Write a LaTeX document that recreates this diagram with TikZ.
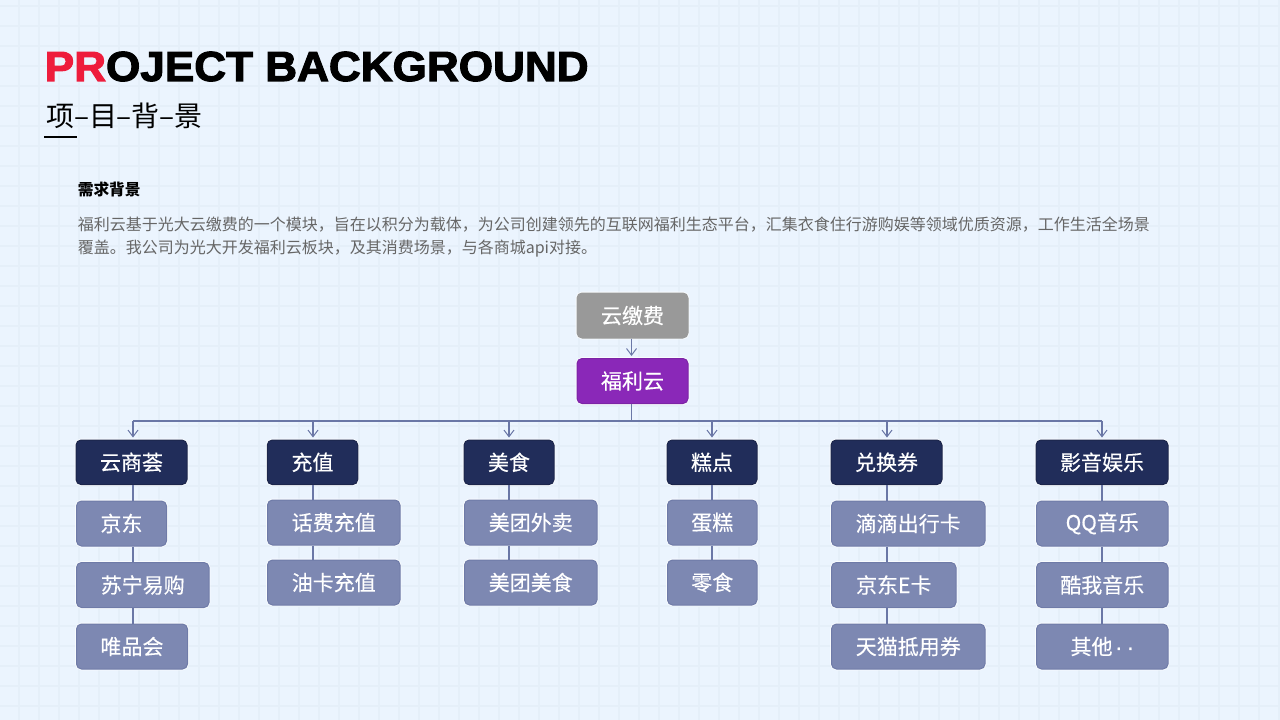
\documentclass[tikz,border=0pt]{standalone}
\usepackage{fontspec}
\setmainfont{Noto Sans CJK SC}
\newfontfamily\titlefont[FakeBold=2.6,FakeStretch=1.05]{Liberation Sans Bold}
\newfontfamily\boxfont[FakeBold=0.35]{Noto Sans CJK SC}
\newfontfamily\latinfont[FakeBold=1]{Liberation Sans}
\usetikzlibrary{arrows.meta}
\definecolor{bgc}{HTML}{EBF4FE}
\definecolor{gridc}{HTML}{E5EFF9}
\definecolor{navy}{HTML}{212D5A}
\definecolor{slate}{HTML}{7D88B2}
\definecolor{slateb}{HTML}{6F7BA8}
\definecolor{linec}{HTML}{6A77A6}
\definecolor{purp}{HTML}{8A28B8}
\definecolor{grayb}{HTML}{999999}
\definecolor{redt}{HTML}{EE1C3C}
\tikzset{
  box/.style={rounded corners=3.75pt,inner sep=0pt,text=white,font=\boxfont\fontsize{15.75pt}{18pt}\selectfont,line width=0.75pt,preaction={draw=white,line width=2pt,opacity=.75}},
  wd/.style={minimum width=#1*0.75pt},
  ht/.style={minimum height=#1*0.75pt},
  top/.style={box,fill=navy,draw=navy!85!black},
  sub/.style={box,fill=slate,draw=slateb},
  grayn/.style={box,fill=grayb,draw=grayb},
  purpn/.style={box,fill=purp,draw=purp!90!black},
  conn/.style={draw=linec,line width=0.8pt},
  arr/.style={conn,shorten >=1.5pt,-{Straight Barb[length=5pt,width=7.5pt,line width=0.75pt]}},
  txt/.style={anchor=base west,inner sep=0pt},
  bodytxt/.style={txt,text=black!60,font=\fontsize{12pt}{14pt}\selectfont},
  gridline/.style={gridc,line width=0.9pt},
}
\begin{document}
\begin{tikzpicture}[x=0.75pt,y=-0.75pt]
\useasboundingbox (0,0) rectangle (1280,720);
\fill[bgc] (0,0) rectangle (1280,720);
\foreach \i in {0,...,63}{\draw[gridline] ({19+20*\i},0) -- ({19+20*\i},720);}
\foreach \i in {0,...,35}{\draw[gridline] (0,{6+20*\i}) -- (1280,{6+20*\i});}
% heading
\node[txt,font=\titlefont\fontsize{31.5pt}{36pt}\selectfont] (title) at (44.5,81) {\textcolor{redt}{PR}OJECT BACKGROUND};
\node[txt,font=\fontsize{21pt}{24pt}\selectfont] (subtitle) at (46,126.5) {项\kern-0.1pt–\kern-0.1pt目\kern-0.1pt–\kern-0.1pt背\kern-0.1pt–\kern-0.1pt景};
\fill[black] (44,136.2) rectangle (77,138);
\node[txt,font=\fontsize{11.8pt}{14pt}\bfseries\selectfont] (need) at (77.5,195.5) {需求背景};
\node[bodytxt] (l1) at (77.5,230.5) {福利云基于光大云缴费的一个模块，旨在以积分为载体，为公司创建领先的互联网福利生态平台，汇集衣食住行游购娱等领域优质资源，工作生活全场景};
\node[bodytxt] (l2) at (77.5,253) {覆盖。我公司为光大开发福利云板块，及其消费场景，与各商城api对接。};
% root
\node[grayn,wd=111,ht=45] (yjf) at (632.5,315.5) {云缴费};
\node[purpn,wd=111,ht=45] (flyun) at (632.5,381) {福利云};
% level 1
\node[top,wd=111,ht=44.5] (c1) at (131.5,462.3) {云商荟};
\node[top,wd=90.5,ht=44.5] (c2) at (312.5,462.3) {充值};
\node[top,wd=90,ht=44.5] (c3) at (509,462.3) {美食};
\node[top,wd=90,ht=44.5] (c4) at (712,462.3) {糕点};
\node[top,wd=111,ht=44.5] (c5) at (886.5,462.3) {兑换券};
\node[top,wd=132,ht=44.5] (c6) at (1102,462.3) {影音娱乐};
% column 1
\node[sub,wd=90,ht=45,anchor=west] (a1) at (76,523.5) {京东};
\node[sub,wd=132.5,ht=45,anchor=west] (a2) at (76,585) {苏宁易购};
\node[sub,wd=111,ht=45,anchor=west] (a3) at (76,646.5) {唯品会};
% column 2
\node[sub,wd=132.5,ht=45,anchor=west] (b1) at (267,522.5) {话费充值};
\node[sub,wd=132.5,ht=45,anchor=west] (b2) at (267,582.5) {油卡充值};
% column 3
\node[sub,wd=132.5,ht=45,anchor=west] (d1) at (464,522.5) {美团外卖};
\node[sub,wd=132.5,ht=45,anchor=west] (d2) at (464,582.5) {美团美食};
% column 4
\node[sub,wd=89.5,ht=45,anchor=west] (e1) at (667,522.5) {蛋糕};
\node[sub,wd=89.5,ht=45,anchor=west] (e2) at (667,582.5) {零食};
% column 5
\node[sub,wd=153.5,ht=45,anchor=west] (f1) at (831,523.5) {滴滴出行卡};
\node[sub,wd=124.5,ht=45,anchor=west] (f2) at (831,585) {京东E卡};
\node[sub,wd=153.5,ht=45,anchor=west] (f3) at (831,646.5) {天猫抵用券};
% column 6
\node[sub,wd=131.5,ht=45,anchor=west] (g1) at (1036,523.5) {QQ音乐};
\node[sub,wd=131.5,ht=45,anchor=west] (g2) at (1036,585) {酷我音乐};
\node[sub,wd=131.5,ht=45,anchor=west] (g3) at (1036,646.5) {其他{\latinfont\kern2pt·\kern3.5pt·}};
% connectors
\coordinate (bus) at (631.5,421);
\coordinate (x1) at (133,421);
\coordinate (x2) at (313,421);
\coordinate (x3) at (509,421);
\coordinate (x4) at (712,421);
\coordinate (x5) at (887,421);
\coordinate (x6) at (1102,421);
\draw[arr] (bus |- yjf.south) -- (bus |- flyun.north);
\draw[conn] (bus |- flyun.south) -- (bus);
\draw[conn] (x1) -- (x6);
\draw[arr] (x1) -- (x1 |- c1.north);
\draw[arr] (x2) -- (x2 |- c2.north);
\draw[arr] (x3) -- (x3 |- c3.north);
\draw[arr] (x4) -- (x4 |- c4.north);
\draw[arr] (x5) -- (x5 |- c5.north);
\draw[arr] (x6) -- (x6 |- c6.north);
\draw[conn] (x1 |- c1.south) -- (x1 |- a1.north);
\draw[conn] (x1 |- a1.south) -- (x1 |- a2.north);
\draw[conn] (x1 |- a2.south) -- (x1 |- a3.north);
\draw[conn] (x2 |- c2.south) -- (x2 |- b1.north);
\draw[conn] (x2 |- b1.south) -- (x2 |- b2.north);
\draw[conn] (x3 |- c3.south) -- (x3 |- d1.north);
\draw[conn] (x3 |- d1.south) -- (x3 |- d2.north);
\draw[conn] (x4 |- c4.south) -- (x4 |- e1.north);
\draw[conn] (x4 |- e1.south) -- (x4 |- e2.north);
\draw[conn] (x5 |- c5.south) -- (x5 |- f1.north);
\draw[conn] (x5 |- f1.south) -- (x5 |- f2.north);
\draw[conn] (x5 |- f2.south) -- (x5 |- f3.north);
\draw[conn] (x6 |- c6.south) -- (x6 |- g1.north);
\draw[conn] (x6 |- g1.south) -- (x6 |- g2.north);
\draw[conn] (x6 |- g2.south) -- (x6 |- g3.north);
\end{tikzpicture}
\end{document}
